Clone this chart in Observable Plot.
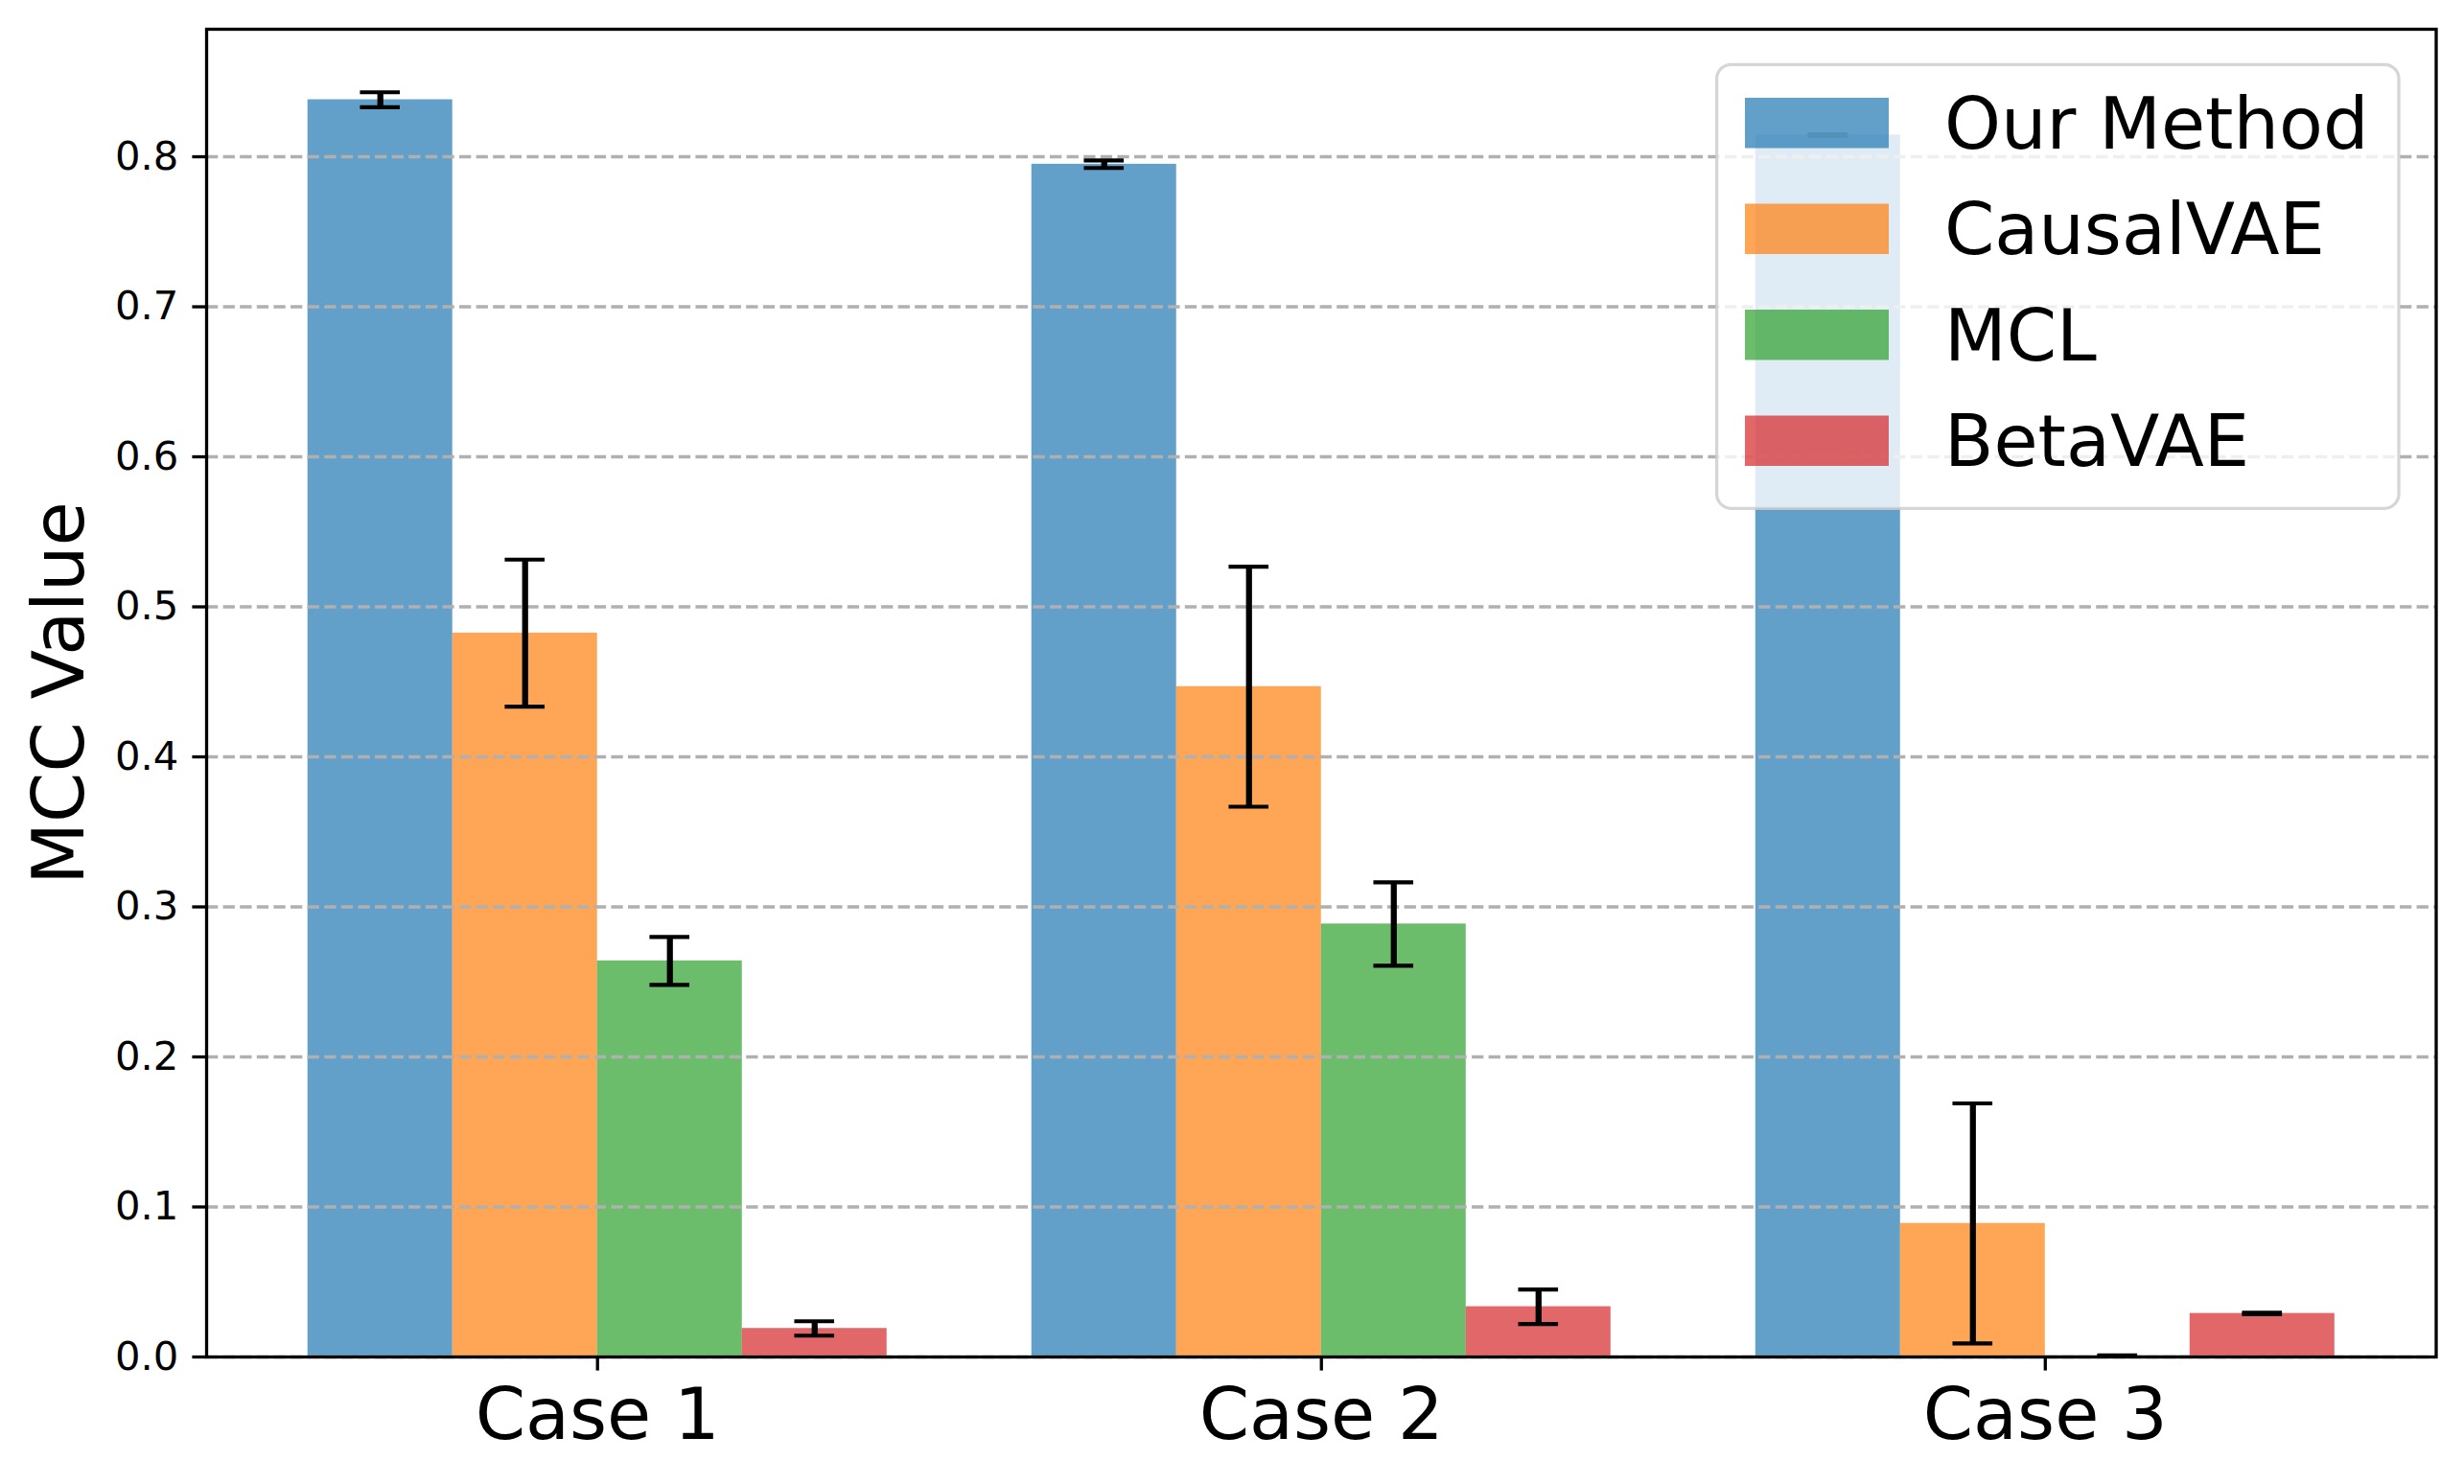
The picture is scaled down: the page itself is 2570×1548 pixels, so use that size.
<!DOCTYPE html>
<html>
<head>
<meta charset="utf-8">
<script src="https://cdn.jsdelivr.net/npm/d3@7"></script>
<script src="https://cdn.jsdelivr.net/npm/@observablehq/plot@0.6"></script>
<style>
  html, body { margin: 0; padding: 0; background: white; }
  #wrap { position: relative; width: 2570px; height: 1548px; }
  #legend { position: absolute; left: 0; top: 0; pointer-events: none; }
</style>
</head>
<body>
<div id="wrap"></div>
<script>
// ---- data ----
const cases = ["Case 1", "Case 2", "Case 3"];
const methods = ["Our Method", "CausalVAE", "MCL", "BetaVAE"];
const colors = ["#1f77b4", "#ff7f0e", "#2ca02c", "#d62728"];

const ourMethod    = [0.838, 0.795, 0.8145];
const ourMethodErr = [0.005, 0.0025, 0.0005];
const causalVAE    = [0.4825, 0.4468, 0.089];
const causalVAEErr = [0.049, 0.080, 0.080];
const mcl          = [0.264, 0.2886, 0.0008];
const mclErr       = [0.016, 0.0278, 0.0003];
const betaVAE      = [0.019, 0.0335, 0.029];
const betaVAEErr   = [0.0048, 0.0115, 0.0005];

const yTicks = [0, 0.1, 0.2, 0.3, 0.4, 0.5, 0.6, 0.7, 0.8];

// ---- build table ----
const seriesVals = [ourMethod, causalVAE, mcl, betaVAE];
const seriesErrs = [ourMethodErr, causalVAEErr, mclErr, betaVAEErr];
const barW = 0.2;
const rows = [];
methods.forEach((m, mi) => {
  cases.forEach((c, ci) => {
    const center = ci + (mi - 1.5) * barW;
    rows.push({method: m, ci, center, value: seriesVals[mi][ci], err: seriesErrs[mi][ci]});
  });
});

const W = 2570, H = 1548;
const mL = 215, mR = 29.5, mT = 30, mB = 133;
const xDomain = [-0.54, 2.54];
const pxPerUnit = (W - mL - mR) / (xDomain[1] - xDomain[0]);
const capHalf = 20.8;
const capInset = barW * pxPerUnit / 2 - capHalf;

const chart = Plot.plot({
  width: W, height: H,
  marginLeft: mL, marginRight: mR, marginTop: mT, marginBottom: mB,
  x: {type: "linear", domain: xDomain},
  y: {domain: [0, 0.885]},
  color: {domain: methods, range: colors},
  style: {fontFamily: "DejaVu Sans", background: "white", color: "black"},
  marks: [
    Plot.rectY(rows, {x1: d => d.center - barW / 2, x2: d => d.center + barW / 2, y1: 0, y2: "value", fill: "method", fillOpacity: 0.7}),
    Plot.gridY(yTicks, {stroke: "#b0b0b0", strokeOpacity: 1, strokeWidth: 3.3, strokeDasharray: "12.3,5.3"}),
    Plot.ruleX(rows, {x: "center", y1: d => d.value - d.err, y2: d => d.value + d.err, stroke: "black", strokeWidth: 6.25}),
    Plot.ruleY(rows, {y: d => d.value + d.err, x1: d => d.center - barW / 2, x2: d => d.center + barW / 2, insetLeft: capInset, insetRight: capInset, stroke: "black", strokeWidth: 4.17}),
    Plot.ruleY(rows, {y: d => d.value - d.err, x1: d => d.center - barW / 2, x2: d => d.center + barW / 2, insetLeft: capInset, insetRight: capInset, stroke: "black", strokeWidth: 4.17}),
    Plot.axisY(yTicks, {tickSize: 14.6, tickPadding: 14.6, fontSize: 41.7, tickFormat: d3.format(".1f"), strokeWidth: 3.3, label: null}),
    Plot.axisX([0, 1, 2], {tickSize: 14.6, tickPadding: 18, fontSize: 75, tickFormat: i => cases[i], strokeWidth: 3.3, label: null}),
    Plot.frame({stroke: "black", strokeWidth: 3.3}),
    Plot.text(["MCC Value"], {text: d => d, frameAnchor: "left", textAnchor: "middle", rotate: -90, dx: -153, fontSize: 75})
  ]
});

const wrap = document.getElementById("wrap");
wrap.appendChild(chart);

// ---- legend overlay (matplotlib-style, semi-transparent frame) ----
const lg = d3.select(wrap).append("svg")
  .attr("id", "legend")
  .attr("width", W).attr("height", H)
  .style("font-family", "DejaVu Sans");
const lgLeft = 1790.6, lgTop = 67.3, lgW = 711.4, lgH = 463;
lg.append("rect")
  .attr("x", lgLeft).attr("y", lgTop).attr("width", lgW).attr("height", lgH)
  .attr("rx", 15).attr("ry", 15)
  .attr("fill", "white").attr("fill-opacity", 0.8)
  .attr("stroke", "#cccccc").attr("stroke-opacity", 0.8).attr("stroke-width", 3.3);
const rowStep = 110.5, patchTop0 = 102, patchH = 52.5, patchX = 1820, patchW = 150, textX = 2028;
methods.forEach((m, i) => {
  const top = patchTop0 + i * rowStep;
  lg.append("rect")
    .attr("x", patchX).attr("y", top).attr("width", patchW).attr("height", patchH)
    .attr("fill", colors[i]).attr("fill-opacity", 0.7);
  lg.append("text")
    .attr("x", textX).attr("y", top + patchH)
    .attr("font-size", 75).attr("fill", "black")
    .text(m);
});
</script>
</body>
</html>
